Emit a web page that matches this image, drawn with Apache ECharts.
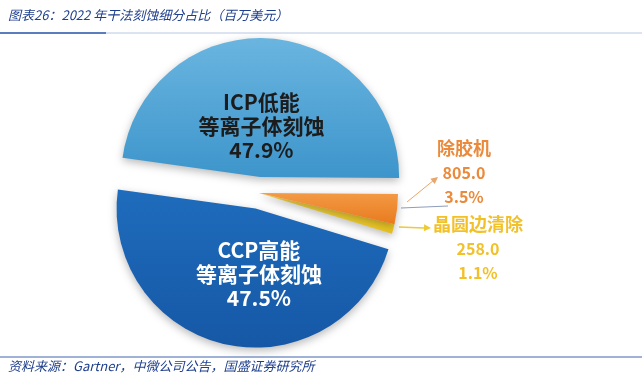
<!DOCTYPE html>
<html>
<head>
<meta charset="utf-8">
<script src="https://cdn.jsdelivr.net/npm/echarts@6/dist/echarts.min.js"></script>
<style>
html,body{margin:0;padding:0;background:#fff;}
#c{width:642px;height:385px;}
</style>
</head>
<body>
<div id="c"></div>
<script>
// ---- data ----
const titleText = '图表26：2022 年干法刻蚀细分占比（百万美元）';
const sourceText = '资料来源：Gartner，中微公司公告，国盛证券研究所';
const categories = ['晶圆边清除', '除胶机', 'ICP低能\n等离子体刻蚀', 'CCP高能\n等离子体刻蚀'];
const values = [258.0, 805.0, 11020, 10925];   // 百万美元
const exploded = [false, false, true, true];

const FONT = '"Noto Sans CJK SC", "Noto Sans", sans-serif';
const sliceColors = [
  {type:'linear',x:0,y:0,x2:0,y2:1,colorStops:[{offset:0,color:'#f6da4a'},{offset:1,color:'#e9c21e'}]},
  {type:'linear',x:0,y:0,x2:0,y2:1,colorStops:[{offset:0,color:'#f39a45'},{offset:1,color:'#e97a1d'}]},
  {type:'linear',x:0,y:0,x2:0,y2:1,colorStops:[{offset:0,color:'#6ab5e0'},{offset:1,color:'#3d95cb'}]},
  {type:'linear',x:0,y:0,x2:0,y2:1,colorStops:[{offset:0,color:'#1f6cbc'},{offset:1,color:'#1558a6'}]}
];
const labelColors = ['#f2c12a', '#ea8a3a', '#1c1c1c', '#ffffff'];
const labelPos = [[478, 248], [464, 172], null, null];
const labelShift = [[0, 0], [0, 0], [-4, 21], [19, -5]];

const chart = echarts.init(document.getElementById('c'), null, {renderer: 'canvas'});

const data = values.map((v, i) => ({
  name: categories[i],
  value: v,
  selected: exploded[i],
  itemStyle: {color: sliceColors[i]},
  label: {color: labelColors[i], offset: labelShift[i]},
  select: {label: {color: labelColors[i], offset: labelShift[i]}}
}));

function arrowHead(x1, y1, x2, y2, color) {
  const a = Math.atan2(y2 - y1, x2 - x1), L = 7, W = 3.5;
  const bx = x2 - L * Math.cos(a), by = y2 - L * Math.sin(a);
  return {
    type: 'polygon', silent: true,
    shape: {points: [[x2, y2], [bx - W * Math.sin(a), by + W * Math.cos(a)], [bx + W * Math.sin(a), by - W * Math.cos(a)]]},
    style: {fill: color}
  };
}

chart.setOption({
  backgroundColor: '#ffffff',
  animation: false,
  graphic: [
    {type: 'text', left: 8, top: 9, style: {text: titleText, font: 'italic 13px ' + FONT, fill: '#1f3f8c'}},
    {type: 'line', shape: {x1: 0, y1: 33, x2: 106, y2: 33}, style: {stroke: '#5a7dbd', lineWidth: 2}},
    {type: 'line', shape: {x1: 106, y1: 33, x2: 642, y2: 33}, style: {stroke: '#b9c6e3', lineWidth: 1}},
    {type: 'line', shape: {x1: 0, y1: 357, x2: 642, y2: 357}, style: {stroke: '#7f97c8', lineWidth: 1.5}},
    {type: 'text', left: 8, top: 360, style: {text: sourceText, font: 'italic 13px ' + FONT, fill: '#1f3f8c'}},
    // pointer lines
    {type: 'line', shape: {x1: 407, y1: 202, x2: 434, y2: 180}, style: {stroke: '#eaa56a', lineWidth: 1}},
    arrowHead(407, 202, 438, 177, '#eaa56a'),
    {type: 'line', shape: {x1: 401, y1: 208, x2: 448, y2: 206}, style: {stroke: '#8f9db8', lineWidth: 1}},
    {type: 'line', shape: {x1: 399, y1: 227, x2: 424, y2: 228}, style: {stroke: '#eecb35', lineWidth: 1.5}},
    arrowHead(399, 227, 431, 228, '#eecb35')
  ],
  series: [{
    type: 'pie',
    center: [259, 193],
    radius: 139,
    startAngle: -17,
    clockwise: false,
    selectedMode: 'multiple',
    selectedOffset: 16,
    percentPrecision: 1,
    avoidLabelOverlap: false,
    itemStyle: {shadowBlur: 8, shadowColor: 'rgba(0,0,0,0.28)', shadowOffsetY: 3, borderWidth: 0},
    emphasis: {disabled: true},
    labelLine: {show: false},
    label: {
      show: true,
      position: 'inside',
      fontFamily: FONT,
      formatter: function (p) {
        if (p.dataIndex >= 2) {
          return '{b|' + p.name + '}\n{b|' + p.percent.toFixed(1) + '%}';
        }
        return '{n|' + p.name + '}\n{v|' + p.value.toFixed(1) + '}\n{v|' + p.percent.toFixed(1) + '%}';
      },
      rich: {
        b: {fontSize: 21, fontWeight: 'bold', lineHeight: 24, fontFamily: FONT},
        n: {fontSize: 18, fontWeight: 'bold', lineHeight: 25, fontFamily: FONT},
        v: {fontSize: 16, fontWeight: 'bold', lineHeight: 24, fontFamily: FONT}
      }
    },
    labelLayout: function (p) {
      const pos = labelPos[p.dataIndex];
      if (!pos) return {};
      return {x: pos[0], y: pos[1], align: 'center', verticalAlign: 'middle'};
    },
    data: data
  }]
});
</script>
</body>
</html>
